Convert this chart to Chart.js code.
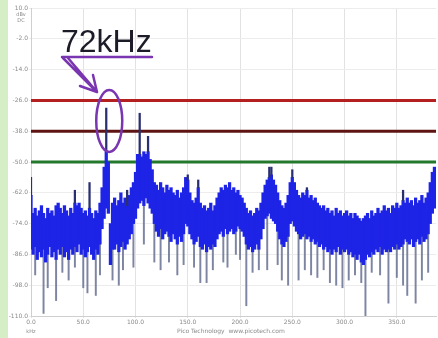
<!DOCTYPE html>
<html>
<head>
<meta charset="utf-8">
<script src="https://cdn.jsdelivr.net/npm/chart.js@4.4.1/dist/chart.umd.min.js"></script>
<style>
  html, body { margin: 0; padding: 0; background: #fff; }
  #wrap { width: 438px; height: 338px; position: relative; }
</style>
</head>
<body>
<div id="wrap"><canvas id="spectrum" width="438" height="338"></canvas></div>
<script>
// frequency bins (kHz) of the spectrum trace
const freqKHz = [
  0,2,4,6,8,10,12,14,16,18,20,22,24,26,28,30,32,34,36,38,40,42,44,46,48,50,52,54,56,58,60,62,64,66,68,
  70,72,74,76,78,80,82,84,86,88,90,92,94,96,98,100,102,104,106,108,110,112,114,116,118,
  120,122,124,126,128,130,132,134,136,138,140,142,144,146,148,150,152,154,156,158,160,162,164,166,168,170,172,174,176,178,
  180,182,184,186,188,190,192,194,196,198,200,202,204,206,208,210,212,214,216,218,220,222,224,226,228,230,232,234,236,
  238,240,242,244,246,248,250,252,254,256,258,260,262,264,266,268,270,272,274,276,278,280,282,284,286,288,290,292,294,296,298,300,
  302,304,306,308,310,312,314,316,318,320,322,324,326,328,330,332,334,336,338,340,
  342,344,346,348,350,352,354,356,358,360,362,364,366,368,370,372,374,376,378,380,382,384,386
];

// top of the dense noise band (dBV)
const bandTop = [
  -63,-70,-68,-71,-69,-67,-70,-72,-68,-70,-69,-71,-67,-66,-68,-70,-67,-69,-71,-68,-70,-66,-67,-66,-68,-70,-69,-71,-68,-70,-72,-69,-70,-66,-60,
  -52,-46,-50,-74,-66,
  -64,-67,-65,-62,-66,-64,-67,-63,-60,-58,
  -54,-47,-47,-48,-46,-47,-46,-49,-53,-58,
  -59,-61,-58,-60,-62,-59,-61,-60,-62,-63,-61,-64,-62,-60,-56,
  -57,-62,-65,-66,-64,-60,-66,-68,-67,-69,-68,-66,-69,-67,-64,
  -62,-60,-61,-59,-60,-58,-61,-60,-62,-61,-63,
  -64,-66,-68,-70,-69,-71,-70,-68,-69,-66,-62,
  -59,-57,-56,-55,-57,-59,-62,
  -65,-67,-68,-66,-63,
  -58,-56,-58,-61,
  -63,-64,-62,-63,-61,-64,-63,-65,-64,-66,-67,
  -68,-67,-69,-68,-70,-69,-71,-68,-70,-69,-71,-70,
  -69,-71,-70,-72,-70,-71,-72,-73,-72,-71,-70,-72,-69,-71,-70,-68,-70,-69,-67,-69,
  -68,-70,-67,-68,-66,-68,-67,-65,-66,-64,-66,-65,-67,-64,-66,-65,-63,-66,-64,-62,
  -58,-54,-52
];

// bottom of the dense noise band (dBV)
const bandBottom = [
  -84,-86,-83,-88,-85,-87,-84,-89,-86,-83,-87,-85,-88,-84,-86,-83,-87,-85,-88,-84,-86,-83,-85,-82,-86,-84,-87,-85,-83,-86,-88,-84,-86,-82,-76,
  -72,-68,-70,-90,-84,
  -84,-82,-85,-83,-81,-84,-82,-80,-78,-74,
  -72,-68,-66,-65,-67,-64,-66,-68,-70,-74,
  -77,-79,-76,-80,-78,-77,-79,-81,-78,-80,-82,-79,-81,-78,-74,
  -75,-78,-80,-82,-81,-79,-83,-84,-82,-85,-83,-84,-82,-83,-80,
  -78,-77,-79,-76,-78,-77,-76,-78,-77,-75,-76,
  -77,-79,-82,-84,-83,-85,-84,-82,-84,-80,-76,
  -72,-71,-70,-72,-73,-74,-77,
  -80,-82,-83,-81,-79,
  -74,-73,-75,-77,
  -78,-80,-79,-78,-80,-79,-81,-80,-82,-81,-83,
  -82,-84,-83,-85,-84,-86,-84,-85,-83,-86,-84,-85,
  -84,-86,-85,-87,-86,-88,-86,-89,-90,-88,-86,-87,-85,-86,-84,-85,-83,-86,-84,-85,
  -84,-85,-83,-84,-82,-84,-83,-82,-80,-81,-82,-80,-83,-81,-80,-82,-79,-81,-80,-78,
  -74,-70,-68
];

// narrow peaks rising above the band
const peakFreq = [0, 42, 56, 72, 92, 104, 112, 150, 160, 228, 230, 250, 264, 356];
const peakTop  = [-56, -61, -58, -29, -61, -31, -40, -55, -57, -52, -52, -53, -60, -61];

// deep dips falling below the band
const dipFreq  = [4, 12, 16, 24, 30, 36, 42, 50, 54, 62, 66, 78, 84, 88, 98, 108, 118, 124, 132, 140, 146,
                  156, 162, 168, 174, 184, 188, 196, 200, 206, 212, 218, 226, 236, 240, 246, 256, 262, 268,
                  274, 280, 286, 292, 298, 304, 310, 316, 320, 326, 334, 342, 350, 356, 360, 368, 374, 380];
const dipDepth = [-94, -109, -99, -104, -93, -96, -91, -99, -101, -102, -94, -96, -98, -92, -91, -82, -89, -92, -89, -94, -90,
                  -91, -97, -97, -92, -89, -91, -86, -88, -106, -93, -92, -92, -90, -96, -98, -96, -92, -94,
                  -95, -92, -97, -98, -99, -96, -94, -97, -110, -93, -94, -105, -95, -98, -102, -105, -96, -93];

// reference levels (dBV)
const levelValues = [-26, -38, -50];
const levelColors = ['#b3201f', '#5e1412', '#23782c'];

const yTicks = [10, -2, -14, -26, -38, -50, -62, -74, -86, -98, -110];
const xTicks = [0, 50, 100, 150, 200, 250, 300, 350];

const X_MAX = 387.5;

function binIndex(f) {
    return freqKHz.indexOf(f);
}

const datasets = [];

datasets.push({
    type: 'bar',
    label: 'band',
    data: freqKHz.map((f, i) => ({ x: f, y: [bandBottom[i], bandTop[i]] })),
    backgroundColor: '#1e24e6',
    barThickness: 2.6,
    grouped: false,
    order: 1
});

datasets.push({
    type: 'bar',
    label: 'dips',
    data: dipFreq.map((f, j) => ({ x: f, y: [dipDepth[j], bandBottom[binIndex(f)]] })),
    backgroundColor: 'rgba(112,120,152,0.9)',
    barThickness: 1.3,
    grouped: false,
    order: 2
});

datasets.push({
    type: 'bar',
    label: 'peaks',
    data: peakFreq.map((f, j) => ({ x: f, y: [bandTop[binIndex(f)], peakTop[j]] })),
    backgroundColor: '#2a2f70',
    barThickness: 1.6,
    grouped: false,
    order: 0
});

levelValues.forEach((v, k) => {
    datasets.push({
        type: 'line',
        label: 'level ' + v,
        data: [{ x: 0, y: v }, { x: X_MAX, y: v }],
        borderColor: levelColors[k],
        borderWidth: 3,
        pointRadius: 0,
        order: 3
    });
});

// background, axis captions and the hand drawn 72kHz marking
const decorPlugin = {
    id: 'decor',
    beforeDraw(chart) {
        const c = chart.ctx;
        c.save();
        c.fillStyle = '#ffffff';
        c.fillRect(0, 0, chart.width, chart.height);
        c.fillStyle = '#d6eec6';
        c.fillRect(0, 0, 8, chart.height);
        c.restore();
    },
    afterDraw(chart) {
        const c = chart.ctx;
        const xs = chart.scales.x;
        const ys = chart.scales.y;
        c.save();

        // small captions
        c.fillStyle = '#8a8a8a';
        c.font = '5px "DejaVu Sans"';
        c.textAlign = 'center';
        c.fillText('dBv', 21, 16);
        c.fillText('DC', 21, 22);
        c.fillText('kHz', xs.getPixelForValue(0), 333);
        c.textAlign = 'left';
        c.font = '6px "DejaVu Sans"';
        c.fillText('Pico Technology  www.picotech.com', 177, 333);

        // 72kHz label
        c.fillStyle = '#1c1c28';
        c.font = '32px "Liberation Sans"';
        c.textAlign = 'left';
        c.fillText('72kHz', 61, 52);

        const purple = '#7a35b0';
        c.strokeStyle = purple;
        c.lineWidth = 2.5;
        c.lineCap = 'round';

        // underline
        c.beginPath();
        c.moveTo(62, 57);
        c.lineTo(152, 57);
        c.stroke();

        // arrow
        const tipX = 97, tipY = 92;
        c.beginPath();
        c.moveTo(63, 58);
        c.lineTo(tipX, tipY);
        c.moveTo(68, 58);
        c.lineTo(tipX, tipY);
        c.moveTo(tipX, tipY);
        c.lineTo(93, 75);
        c.moveTo(tipX, tipY);
        c.lineTo(80, 86);
        c.stroke();

        // ellipse round the peak
        const cx = xs.getPixelForValue(72) + 3;
        const cy = ys.getPixelForValue(-34);
        c.beginPath();
        c.ellipse(cx, cy, 13, 31, 0, 0, Math.PI * 2);
        c.stroke();

        c.restore();
    }
};

new Chart(document.getElementById('spectrum'), {
    type: 'bar',
    data: { datasets },
    options: {
        responsive: false,
        animation: false,
        layout: { padding: { top: 8, right: 2, left: 0, bottom: 0 } },
        plugins: {
            legend: { display: false },
            tooltip: { enabled: false }
        },
        scales: {
            x: {
                type: 'linear',
                min: 0,
                max: X_MAX,
                offset: false,
                afterBuildTicks: (axis) => { axis.ticks = xTicks.map(v => ({ value: v })); },
                afterFit: (axis) => { axis.height = 22; },
                grid: { color: '#e2e2e2', offset: false, tickLength: 2, drawTicks: true },
                border: { color: '#cfcfcf' },
                ticks: {
                    color: '#8a8a8a',
                    font: { size: 6, family: 'DejaVu Sans' },
                    padding: 1,
                    maxRotation: 0,
                    autoSkip: false,
                    callback: (v) => Number(v).toFixed(1)
                }
            },
            y: {
                min: -110,
                max: 10,
                afterBuildTicks: (axis) => { axis.ticks = yTicks.map(v => ({ value: v })); },
                afterFit: (axis) => { axis.width = 31; },
                grid: { color: '#ececec', tickLength: 2 },
                border: { color: '#cfcfcf' },
                ticks: {
                    color: '#8a8a8a',
                    font: { size: 6, family: 'DejaVu Sans' },
                    padding: 1,
                    autoSkip: false,
                    callback: (v) => Number(v).toFixed(1)
                }
            }
        }
    },
    plugins: [decorPlugin]
});
</script>
</body>
</html>
